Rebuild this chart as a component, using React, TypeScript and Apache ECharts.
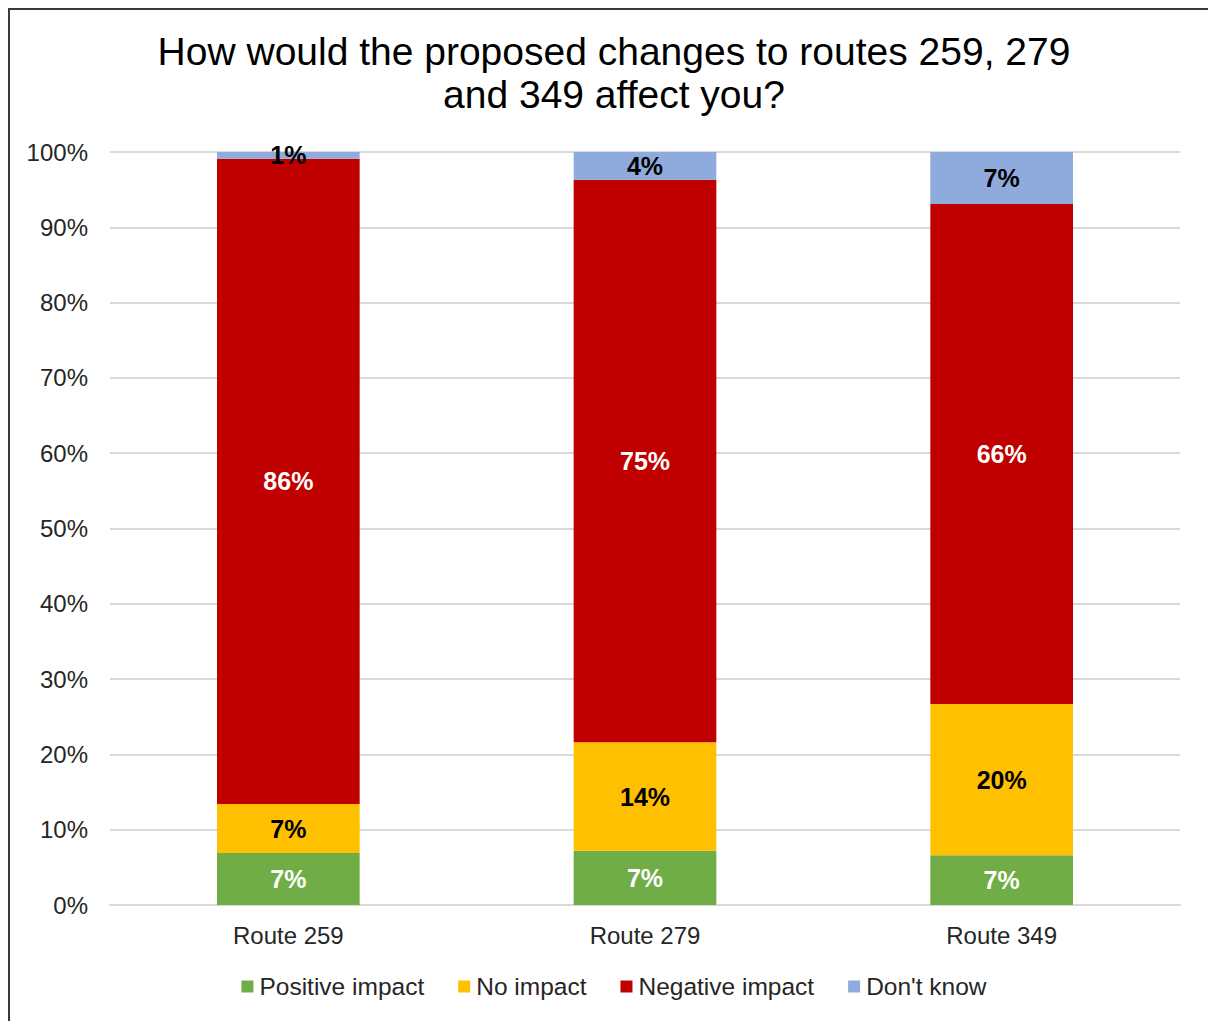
import React, { useEffect, useRef } from "react";
import * as echarts from "echarts";

const categories = ["Route 259", "Route 279", "Route 349"];
const positiveImpact = [6.9, 7.2, 6.6];
const noImpact = [6.5, 14.4, 20.1];
const negativeImpact = [85.7, 74.7, 66.4];
const dontKnow = [0.9, 3.7, 6.9];
const seriesNames = ["Positive impact", "No impact", "Negative impact", "Don't know"];
const seriesColors = ["#70AD47", "#FFC000", "#C00000", "#8FAADC"];
const labelColors = ["#FFFFFF", "#000000", "#FFFFFF", "#000000"];
const yTicks = { min: 0, max: 100, interval: 10 };

const FONT = "'Liberation Sans', Arial, sans-serif";

export default function App() {
  const ref = useRef<HTMLDivElement>(null);
  useEffect(() => {
    if (!ref.current) return;
    const chart = echarts.init(ref.current, null, { renderer: "svg" });
    const data = [positiveImpact, noImpact, negativeImpact, dontKnow];
    chart.setOption({
      animation: false,
      backgroundColor: "#FFFFFF",
      title: {
        text: "How would the proposed changes to routes 259, 279\nand 349 affect you?",
        left: "center",
        top: 17,
        textStyle: {
          fontFamily: FONT,
          fontSize: 39,
          fontWeight: "normal",
          color: "#000000",
          lineHeight: 43,
        },
      },
      legend: {
        data: seriesNames,
        left: "center",
        top: 961,
        itemWidth: 12,
        itemHeight: 12,
        itemGap: 34,
        icon: "rect",
        textStyle: { fontFamily: FONT, fontSize: 24.5, color: "#262626", padding: [0, 0, 0, 1] },
      },
      graphic: [
        { type: "line", shape: { x1: 1, y1: 0, x2: 1, y2: 1020 }, style: { stroke: "#3A3A3A", lineWidth: 2 } },
        { type: "line", shape: { x1: 0, y1: 1, x2: 1220, y2: 1 }, style: { stroke: "#3A3A3A", lineWidth: 2 } },
      ],
      grid: { left: 102, right: 40, top: 144, bottom: 116, containLabel: false },
      xAxis: {
        type: "category",
        data: categories,
        axisTick: { show: false },
        axisLine: { show: true, lineStyle: { color: "#D9D9D9", width: 2 } },
        axisLabel: { fontFamily: FONT, fontSize: 24, color: "#262626", margin: 18 },
      },
      yAxis: {
        type: "value",
        min: yTicks.min,
        max: yTicks.max,
        interval: yTicks.interval,
        axisLine: { show: false },
        axisTick: { show: false },
        splitLine: { lineStyle: { color: "#D9D9D9", width: 2 } },
        axisLabel: {
          fontFamily: FONT,
          fontSize: 24,
          color: "#262626",
          margin: 22,
          formatter: (v: number) => v + "%",
        },
      },
      series: seriesNames.map((name, i) => ({
        name,
        type: "bar",
        stack: "total",
        barWidth: "40%",
        data: data[i],
        itemStyle: { color: seriesColors[i] },
        label: {
          show: true,
          position: "inside",
          fontFamily: FONT,
          fontSize: 25,
          fontWeight: "bold",
          color: labelColors[i],
          formatter: (p: any) => Math.round(p.value) + "%",
        },
      })),
    });
    return () => chart.dispose();
  }, []);
  return (
    <div
      ref={ref}
      style={{ position: "fixed", left: 8, top: 8, width: 1212, height: 1013 }}
    />
  );
}
